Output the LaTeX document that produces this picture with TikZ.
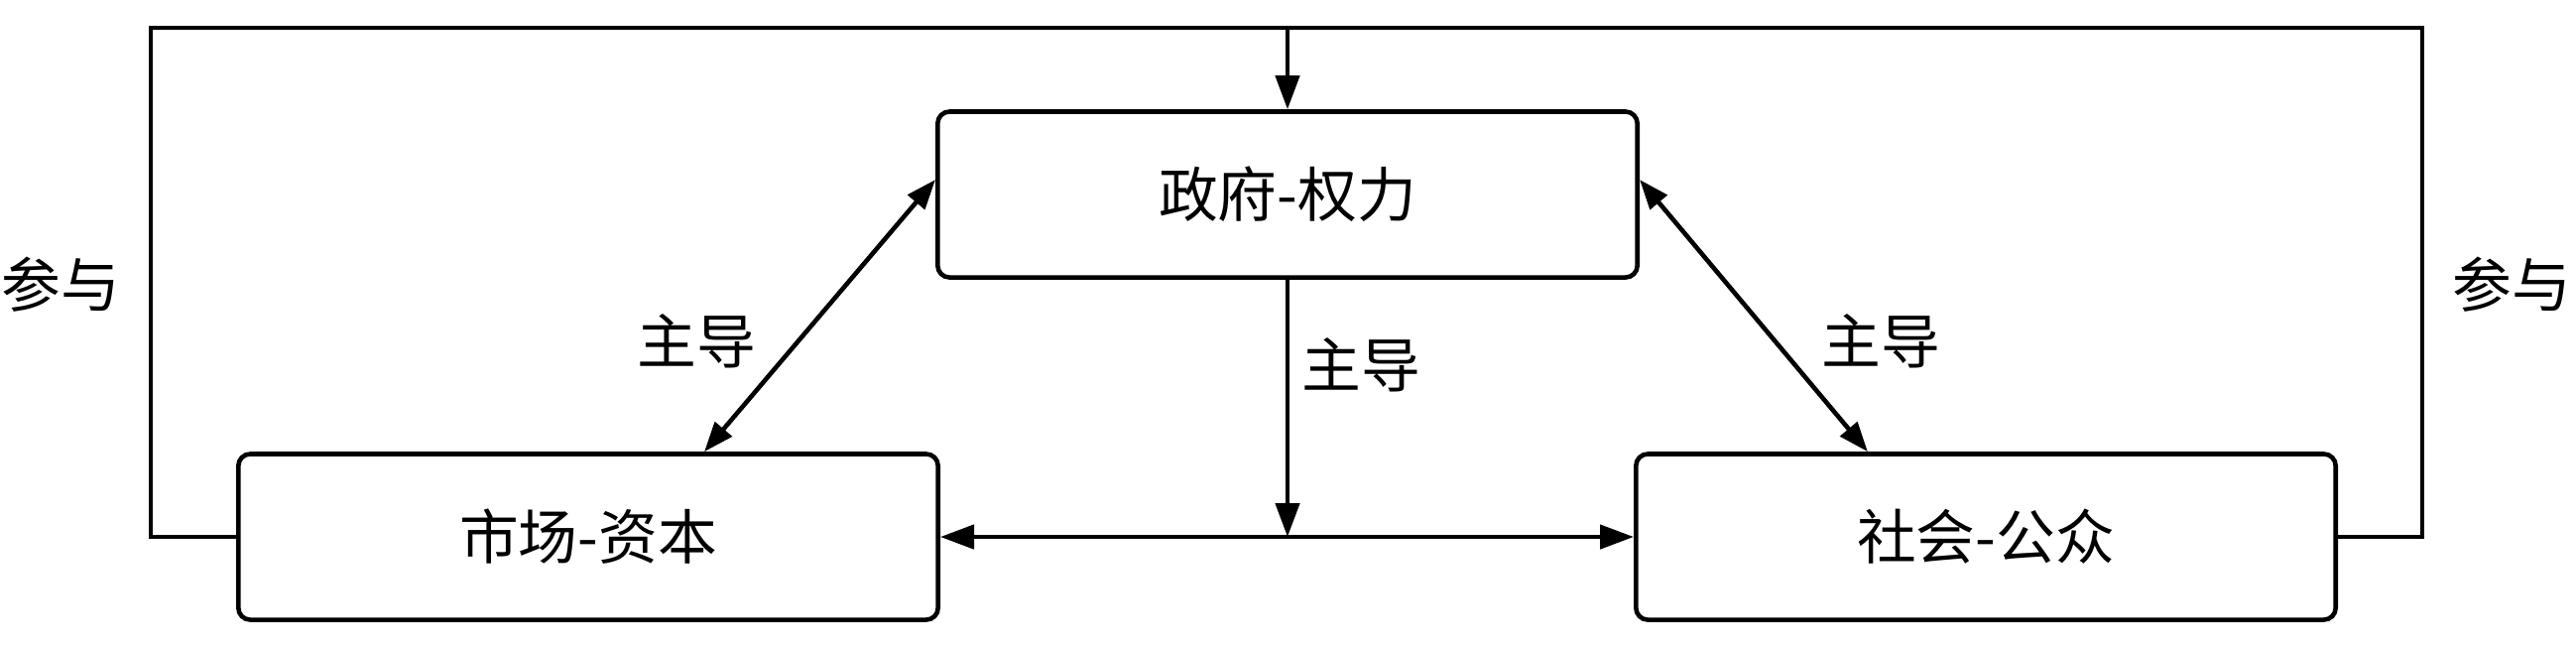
\documentclass[tikz,border=0pt]{standalone}
\usepackage{fontspec}
\newfontfamily\cjk{Noto Sans CJK SC}
\usetikzlibrary{arrows.meta,calc}
\begin{document}
\begin{tikzpicture}[x=0.01cm,y=-0.01cm,
  line width=1.3pt,
  box/.style={draw,rounded corners=0.12cm,minimum width=7.05cm,minimum height=1.67cm,inner sep=0pt,font=\cjk\fontsize{17}{20}\selectfont},
  lbl/.style={inner sep=0pt,font=\cjk\fontsize{17}{20}\selectfont},
  arr/.style={-{Triangle[length=0.34cm,width=0.24cm]}},
  darr/.style={{Triangle[length=0.3cm,width=0.22cm]}-{Triangle[length=0.3cm,width=0.22cm]}},
]
\useasboundingbox (0,0) rectangle (2597,653);
\node[box] (top) at (1298,196) {政府-权力};
\node[box] (left) at (593,541) {市场-资本};
\node[box] (right) at (2002,541) {社会-公众};
% outer loop
\coordinate (lc) at (152,541);
\coordinate (ltop) at (152,28);
\coordinate (rtop) at (2442,28);
\coordinate (rc) at (2442,541);
\coordinate (tj) at (1298,28);
\draw (left.west) -- (lc) -- (ltop) -- (rtop) -- (rc) -- (right.east);
\draw[arr] (tj) -- (top.north);
% middle
\coordinate (mj) at (top.south |- left.east);
\draw[arr] (top.south) -- (mj);
\draw[arr] (mj) -- (left.east);
\draw[arr] (mj) -- (right.west);
% diagonals
\draw[darr] ([yshift=0.15cm]top.west) -- ([xshift=1.17cm]left.north);
\draw[darr] ([yshift=0.15cm]top.east) -- ([xshift=-1.19cm]right.north);
% labels
\node[lbl] (p1) at (61,287) {参与};
\node[lbl] (p2) at (2532,287) {参与};
\node[lbl] (z1) at (702,344) {主导};
\node[lbl] (z2) at (1372,368) {主导};
\node[lbl] (z3) at (1896,344) {主导};
\end{tikzpicture}
\end{document}
